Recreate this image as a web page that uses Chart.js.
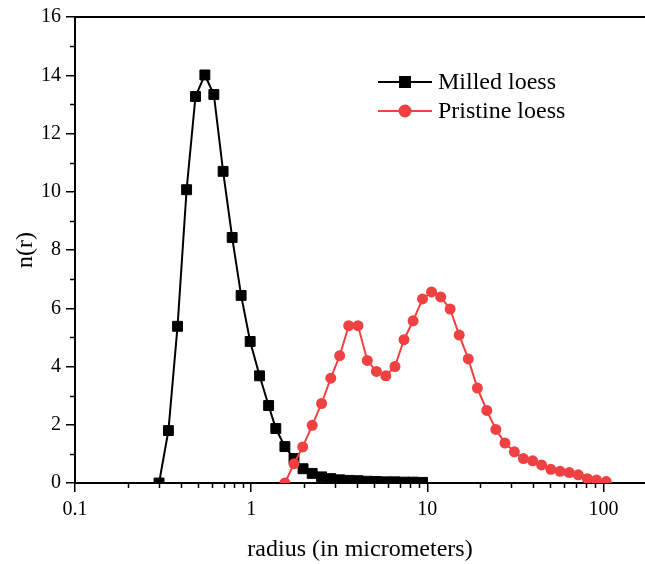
<!DOCTYPE html>
<html>
<head>
<meta charset="utf-8">
<script src="https://cdn.jsdelivr.net/npm/chart.js@4"></script>
<style>
  body { margin: 0; background: #fff; }
  canvas { display: block; }
</style>
</head>
<body>
<canvas id="chart" width="645" height="564"></canvas>
<script>
// values
const milledRadius = [0.300, 0.339, 0.382, 0.430, 0.483, 0.546, 0.614, 0.693, 0.780, 0.877,
    0.987, 1.116, 1.256, 1.38, 1.554, 1.75, 1.97, 2.22, 2.51, 2.83,
    3.18, 3.58, 4.04, 4.56, 5.14, 5.81, 6.55, 7.37, 8.30, 9.39];
const milledN = [0, 1.80, 5.38, 10.07, 13.27, 14.01, 13.34, 10.70, 8.43, 6.44,
    4.86, 3.68, 2.66, 1.87, 1.25, 0.84, 0.49, 0.33, 0.21, 0.15,
    0.11, 0.09, 0.08, 0.06, 0.05, 0.04, 0.04, 0.03, 0.03, 0.02];

const pristineRadius = [1.554, 1.75, 1.962, 2.22, 2.51, 2.83, 3.18, 3.58, 4.04, 4.56,
    5.14, 5.81, 6.55, 7.37, 8.30, 9.39, 10.57, 11.91, 13.47, 15.17,
    17.08, 19.23, 21.75, 24.49, 27.58, 31.2, 35.1, 39.6, 44.5, 50.2,
    56.7, 63.9, 71.9, 81.0, 91.2, 103.6];
const pristineN = [0, 0.66, 1.24, 1.98, 2.73, 3.60, 4.37, 5.40, 5.40, 4.21,
    3.83, 3.68, 4.00, 4.92, 5.57, 6.32, 6.56, 6.39, 5.97, 5.08,
    4.26, 3.26, 2.49, 1.84, 1.37, 1.07, 0.84, 0.76, 0.62, 0.47,
    0.40, 0.36, 0.28, 0.15, 0.10, 0.05];

const xTickValues = [0.1, 1, 10, 100];
const xMinorTicks = [0.2, 0.3, 0.4, 0.5, 0.6, 0.7, 0.8, 0.9,
    2, 3, 4, 5, 6, 7, 8, 9, 20, 30, 40, 50, 60, 70, 80, 90];
const yMinorTicks = [1, 3, 5, 7, 9, 11, 13, 15];

const FONT = "'Liberation Serif', 'Times New Roman', serif";
const RED = "#ef4141";

const toPoints = (xs, ys) => xs.map((x, i) => ({ x: x, y: ys[i] }));

const noPadding = (scale) => {
    scale.paddingLeft = 0;
    scale.paddingRight = 0;
    scale.paddingTop = 0;
    scale.paddingBottom = 0;
};

// short minor ticks + legend with line and marker inside the plot
const extras = {
    id: "extras",
    afterDraw(chart) {
        const ctx = chart.ctx;
        const area = chart.chartArea;
        const xs = chart.scales.x;
        const ys = chart.scales.y;
        ctx.save();
        ctx.strokeStyle = "#000";
        ctx.lineWidth = 1.5;
        ctx.beginPath();
        xMinorTicks.forEach(v => {
            const px = Math.round(xs.getPixelForValue(v)) + 0.5;
            ctx.moveTo(px, area.bottom);
            ctx.lineTo(px, area.bottom + 5);
        });
        yMinorTicks.forEach(v => {
            const py = Math.round(ys.getPixelForValue(v)) + 0.5;
            ctx.moveTo(area.left, py);
            ctx.lineTo(area.left - 5, py);
        });
        ctx.stroke();

        chart.data.datasets.forEach((ds, i) => {
            const y = 82 + i * 29;
            ctx.strokeStyle = ds.borderColor;
            ctx.lineWidth = 2;
            ctx.beginPath();
            ctx.moveTo(378, y);
            ctx.lineTo(432, y);
            ctx.stroke();
            ctx.fillStyle = ds.backgroundColor;
            ctx.strokeStyle = ds.borderColor;
            Chart.helpers.drawPoint(ctx, {
                pointStyle: ds.pointStyle, radius: ds.pointRadius, borderWidth: 1, rotation: 0
            }, 405, y);
            ctx.fillStyle = "#000";
            ctx.font = "24px " + FONT;
            ctx.textBaseline = "middle";
            ctx.fillText(ds.label, 438, y + 1);
        });
        ctx.restore();
    }
};

new Chart(document.getElementById("chart"), {
    type: "line",
    data: {
        datasets: [
            {
                label: "Milled loess",
                data: toPoints(milledRadius, milledN),
                borderColor: "#000",
                backgroundColor: "#000",
                borderWidth: 2,
                pointStyle: "rect",
                pointRadius: 7,
                pointBorderWidth: 1,
                tension: 0,
                order: 1
            },
            {
                label: "Pristine loess",
                data: toPoints(pristineRadius, pristineN),
                borderColor: RED,
                backgroundColor: RED,
                borderWidth: 2,
                pointStyle: "circle",
                pointRadius: 5.5,
                pointBorderWidth: 0,
                tension: 0,
                order: 0
            }
        ]
    },
    options: {
        responsive: false,
        animation: false,
        layout: { autoPadding: false, padding: { top: 17, right: 0, left: 0, bottom: 0 } },
        plugins: {
            legend: { display: false },
            tooltip: { enabled: false }
        },
        scales: {
            x: {
                type: "logarithmic",
                position: "bottom",
                min: 0.1,
                max: 172,
                afterBuildTicks: (scale) => {
                    scale.ticks = xTickValues.map(v => ({ value: v }));
                },
                afterFit: (scale) => { scale.height = 81; noPadding(scale); },
                ticks: {
                    color: "#000",
                    font: { family: FONT, size: 20 },
                    padding: 6,
                    maxRotation: 0,
                    callback: (v) => String(v)
                },
                grid: {
                    drawOnChartArea: false,
                    drawTicks: true,
                    tickLength: 9,
                    color: "#000",
                    lineWidth: 1.5
                },
                border: { display: true, color: "#000", width: 2 },
                title: {
                    display: true,
                    text: "radius (in micrometers)",
                    color: "#000",
                    font: { family: FONT, size: 24 },
                    padding: { top: 5, bottom: 0 }
                }
            },
            xTop: {
                type: "linear",
                position: "top",
                min: 0,
                max: 1,
                afterFit: (scale) => { scale.height = 0; noPadding(scale); },
                ticks: { display: false },
                grid: { display: false },
                border: { display: true, color: "#000", width: 2 }
            },
            y: {
                type: "linear",
                min: 0,
                max: 16,
                afterFit: (scale) => { scale.width = 75; noPadding(scale); },
                ticks: {
                    stepSize: 2,
                    color: "#000",
                    font: { family: FONT, size: 20 },
                    padding: 5
                },
                grid: {
                    drawOnChartArea: false,
                    drawTicks: true,
                    tickLength: 9,
                    color: "#000",
                    lineWidth: 1.5
                },
                border: { display: true, color: "#000", width: 2 },
                title: {
                    display: true,
                    text: "n(r)",
                    color: "#000",
                    font: { family: FONT, size: 24 },
                    padding: { top: 11, bottom: 0 }
                }
            }
        }
    },
    plugins: [extras]
});
</script>
</body>
</html>
